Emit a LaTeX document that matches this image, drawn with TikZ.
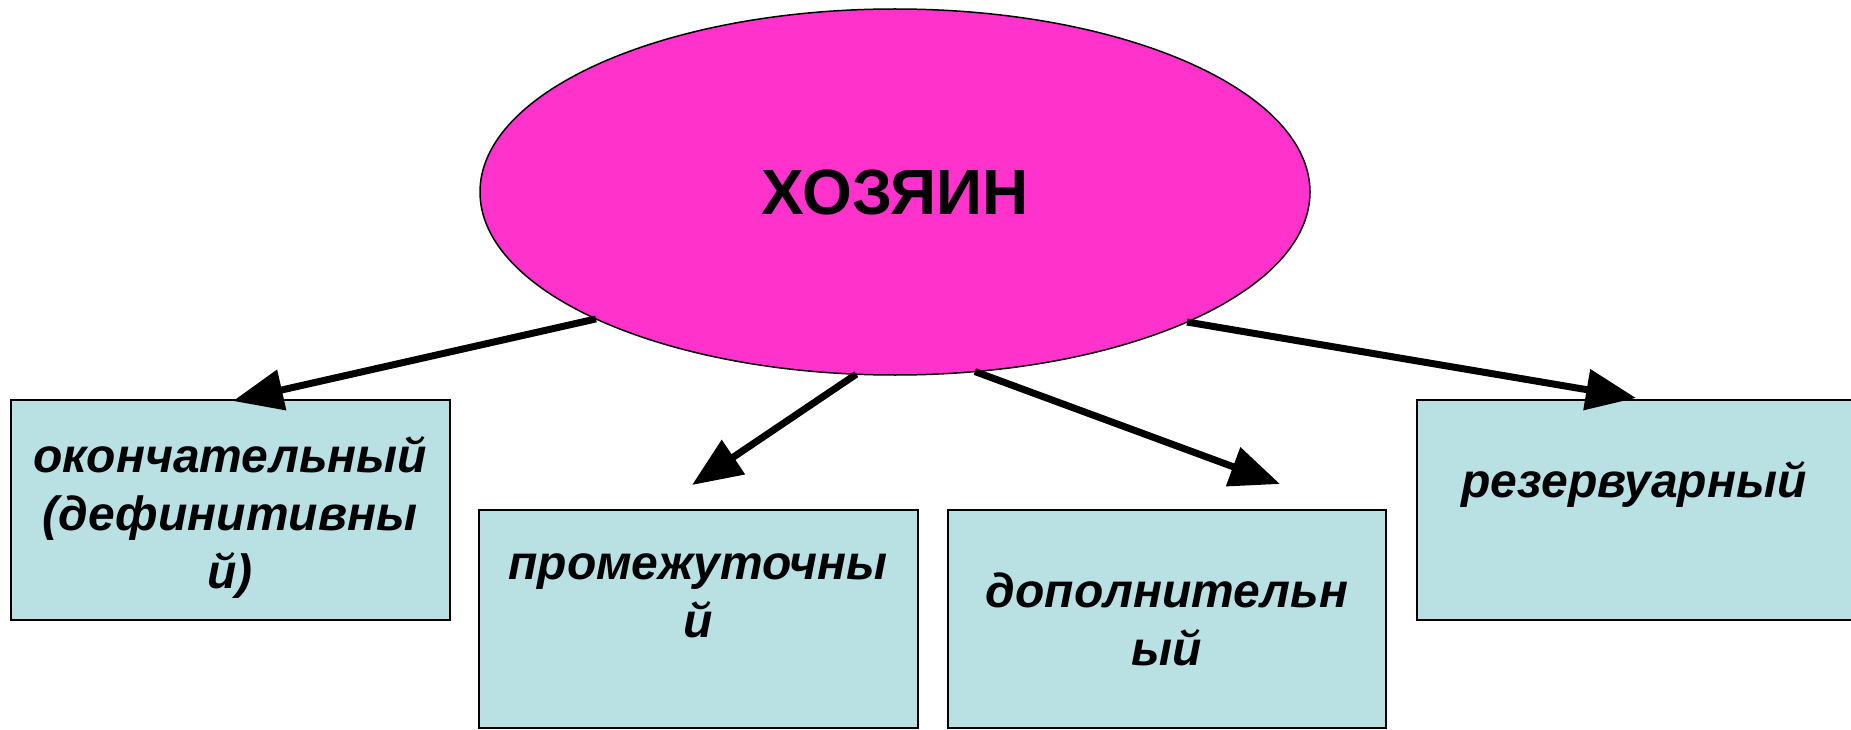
\documentclass[tikz,border=0pt]{standalone}
\usepackage{fontspec}
\setmainfont{Liberation Sans}
\usetikzlibrary{shapes.geometric,arrows.meta}
\definecolor{hostfill}{RGB}{255,51,204}
\definecolor{boxfill}{RGB}{185,224,227}
\begin{document}
\begin{tikzpicture}[x=1pt,y=-1pt,
  hostshape/.style={ellipse,draw=black,line width=1.5pt,fill=hostfill,minimum width=830pt,minimum height=366pt,inner sep=0pt,outer sep=0pt},
  kindbox/.style={rectangle,draw=black,line width=2pt,fill=boxfill,anchor=north west,inner sep=0pt,outer sep=0pt},
  kindtext/.style={align=center,font=\bfseries\itshape\fontsize{48}{58}\selectfont,inner sep=0pt,anchor=base},
  bigarrow/.style={line width=7pt,-{Triangle[length=50pt,width=40pt]}}]
\useasboundingbox (0,0) rectangle (1851,730);
\fill[white] (0,0) rectangle (1851,730);
\node[hostshape] (h) at (895,192) {\bfseries\fontsize{64}{70}\selectfont ХОЗЯИН};
\node[kindbox,minimum width=439pt,minimum height=220pt] (b1) at (11,400) {};
\node[kindbox,minimum width=439pt,minimum height=218pt] (b2) at (479,510) {};
\node[kindbox,minimum width=438pt,minimum height=218pt] (b3) at (948,510) {};
\node[kindbox,minimum width=450pt,minimum height=220pt] (b4) at (1417,400) {};
\node[kindtext] (t1) at (230,588) {окончательный\\(дефинитивны\\й)};
\node[kindtext] (t2) at (698,637) {промежуточны\\й};
\node[kindtext] (t3) at (1167,665) {дополнительн\\ый};
\node[kindtext] (t4) at (1634,497) {резервуарный};
\coordinate (p1) at (233,401);
\coordinate (p2) at (692,485);
\coordinate (p3) at (1280,484);
\coordinate (p4) at (1636,398);
\draw[bigarrow] (h.203.7) -- (p1);
\draw[bigarrow] (h.258.4) -- (p2);
\draw[bigarrow] (h.294.4) -- (p3);
\draw[bigarrow] (h.336.1) -- (p4);
\end{tikzpicture}
\end{document}
